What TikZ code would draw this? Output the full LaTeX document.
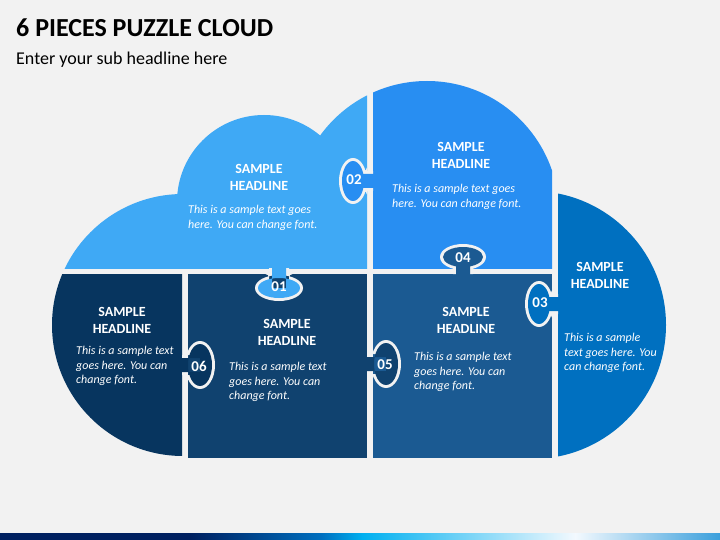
\documentclass[tikz,border=0pt]{standalone}
\usepackage{fontspec}
\setmainfont{Carlito}
\definecolor{bgc}{HTML}{F2F2F2}
\definecolor{pA}{HTML}{3FA9F5}
\definecolor{pB}{HTML}{288EF2}
\definecolor{pC}{HTML}{0070C0}
\definecolor{pD}{HTML}{10426F}
\definecolor{pE}{HTML}{1B5A92}
\definecolor{pF}{HTML}{07355F}
\definecolor{navy}{HTML}{002060}
\definecolor{cyanb}{HTML}{00B0F0}
\definecolor{paleb}{HTML}{F3F9FE}
\definecolor{endb}{HTML}{3A9FDC}
\newcommand{\pfillet}[5]{\fill[bgc] (#1,#2) rectangle (#3,#4); \fill[#5] (#3,#4) circle (4);}
\begin{document}
\begin{tikzpicture}[x=1pt,y=-1pt,
  hl/.style={text=white,font=\fontsize{14}{17}\selectfont\bfseries,align=center,anchor=north,inner sep=0pt},
  bodytxt/.style={text=white,font=\fontsize{12}{14.5}\selectfont\itshape,align=left,anchor=north west,inner sep=0pt},
  num/.style={text=white,font=\fontsize{15}{18}\selectfont\bfseries,inner sep=0pt}]
\useasboundingbox (0,0) rectangle (720,540);
\fill[bgc] (0,0) rectangle (720,540);

% title
\node[anchor=base west,inner sep=0pt,font=\fontsize{26}{30}\selectfont\bfseries] (title) at (16,37) {6 PIECES PUZZLE CLOUD};
\node[anchor=base west,inner sep=0pt,font=\fontsize{18}{22}\selectfont] (sub) at (16,65) {Enter your sub headline here};

% pieces
\begin{scope}
  \clip (0,0) rectangle (367,268);
  \fill[pA] (183,325) circle (131) (264,202) circle (87) (427,213) circle (132);
\end{scope}
\begin{scope}
  \clip (373,0) rectangle (552,268);
  \fill[pB] (427,213) circle (132) (532,325) circle (134);
\end{scope}
\begin{scope}
  \clip (558,0) rectangle (720,540);
  \fill[pC] (532,325) circle (134);
\end{scope}
\begin{scope}
  \clip (0,274) rectangle (182,470);
  \fill[pF] (183,325) circle (131);
\end{scope}
\fill[pD] (188,274) rectangle (367,458);
\fill[pE] (373,274) rectangle (552,458);

% fillets
\pfillet{269}{274}{265}{278}{pD}\pfillet{289}{274}{293}{278}{pD}
\pfillet{367}{171}{363}{167}{pA}\pfillet{367}{191}{363}{195}{pA}
\pfillet{552}{294}{548}{290}{pE}\pfillet{552}{314}{548}{318}{pE}
\pfillet{453}{268}{449}{264}{pB}\pfillet{473}{268}{477}{264}{pB}
\pfillet{373}{354}{377}{350}{pE}\pfillet{373}{374}{377}{378}{pE}
\pfillet{188}{355}{192}{351}{pD}\pfillet{188}{375}{192}{379}{pD}

% tab 01 (A into D)
\fill[bgc] (269,268) rectangle (289,288) (279,288) ellipse (24 and 13);
\fill[pA] (272,266) rectangle (286,288) (279,288) ellipse (21 and 10);
% tab 02 (B into A)
\fill[bgc] (373,171) rectangle (353,191) (353,181) ellipse (14 and 23);
\fill[pB] (375,174) rectangle (353,188) (353,181) ellipse (11 and 20);
% tab 03 (C into E)
\fill[bgc] (558,294) rectangle (539,314) (539,304) ellipse (14 and 23);
\fill[pC] (560,297) rectangle (539,311) (539,304) ellipse (11 and 20);
% tab 04 (E into B)
\fill[bgc] (453,274) rectangle (473,257) (463,257) ellipse (23 and 13);
\fill[pE] (456,276) rectangle (470,257) (463,257) ellipse (20 and 10);
% tab 05 (D into E)
\fill[bgc] (367,354) rectangle (386,374) (386,364) ellipse (15 and 24);
\fill[pD] (365,357) rectangle (386,371) (386,364) ellipse (12 and 21);
% tab 06 (F into D)
\fill[bgc] (182,355) rectangle (200,375) (200,365) ellipse (15 and 24);
\fill[pF] (180,358) rectangle (200,372) (200,365) ellipse (12 and 21);

% numbers
\node[num] (n01) at (279,287) {01};
\node[num] (n02) at (354,180) {02};
\node[num] (n03) at (540,303) {03};
\node[num] (n04) at (463,258) {04};
\node[num] (n05) at (385,365) {05};
\node[num] (n06) at (199,366) {06};

% headlines
\node[hl] (hA) at (259,164.5) {SAMPLE\\HEADLINE};
\node[hl] (hB) at (461,142) {SAMPLE\\HEADLINE};
\node[hl] (hC) at (600,262.5) {SAMPLE\\HEADLINE};
\node[hl] (hE) at (466,307.5) {SAMPLE\\HEADLINE};
\node[hl] (hD) at (287,319.5) {SAMPLE\\HEADLINE};
\node[hl] (hF) at (122,307) {SAMPLE\\HEADLINE};

% body texts
\node[bodytxt] (bA) at (188,205) {This is a sample text goes\\here. You can change font.};
\node[bodytxt] (bB) at (392,184) {This is a sample text goes\\here. You can change font.};
\node[bodytxt] (bC) at (564,333) {This is a sample\\text goes here. You\\can change font.};
\node[bodytxt] (bE) at (414,352) {This is a sample text\\goes here. You can\\change font.};
\node[bodytxt] (bD) at (229,362) {This is a sample text\\goes here. You can\\change font.};
\node[bodytxt] (bF) at (76,346) {This is a sample text\\goes here. You can\\change font.};

% bottom gradient bar
\fill[navy] (0,533) rectangle (190.5,540);
\shade[left color=navy,right color=pC] (190,533) rectangle (322.5,540);
\shade[left color=pC,right color=cyanb] (322,533) rectangle (362.5,540);
\shade[left color=cyanb,right color=paleb] (362,533) rectangle (575.5,540);
\shade[left color=paleb,right color=endb] (575,533) rectangle (720,540);
\end{tikzpicture}
\end{document}
